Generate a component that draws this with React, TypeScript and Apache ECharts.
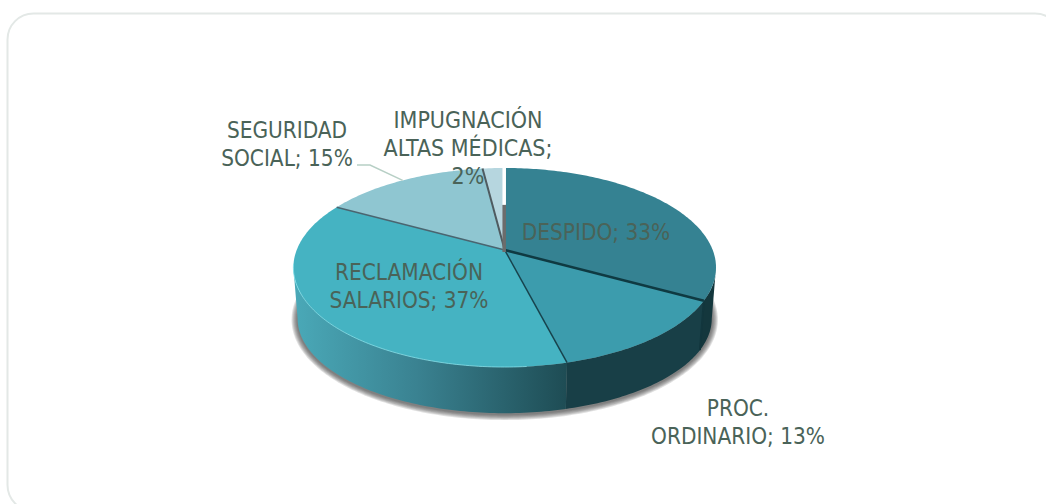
import React, { useEffect, useRef } from "react";
import * as echarts from "echarts";

const categories = ["DESPIDO", "PROC. ORDINARIO", "RECLAMACIÓN SALARIOS", "SEGURIDAD SOCIAL", "IMPUGNACIÓN ALTAS MÉDICAS"];
const shares = [33, 13, 37, 15, 2];
const labelTexts = ["DESPIDO; 33%", "PROC.\nORDINARIO; 13%", "RECLAMACIÓN\nSALARIOS; 37%", "SEGURIDAD\nSOCIAL; 15%", "IMPUGNACIÓN\nALTAS MÉDICAS;\n2%"];
const faceColors = ["#358292", "#3c9cad", "#45b3c2", "#8fc6d1", "#b6d6df"];
const labelCenters = [[596, 232], [738, 422], [409, 286], [287, 144], [468, 148]];
const labelSizes = [22.4, 22.4, 22.4, 22.4, 23];
const edgeStyles: [string, number][] = [["#0f3a42", 2.5], ["#17434d", 1.5], ["#4a6570", 1.5], ["#4f5b60", 2]];

const CX = 504.7, CY = 250, R = 208, S = 96.43, K = 0.176, DEPTH = 52;
const TEXT = "#4a6358";
const FONT = "'DejaVu Sans Condensed', 'DejaVu Sans', sans-serif";
const rad = (d: number) => (d * Math.PI) / 180;
const total = shares.reduce((a, b) => a + b, 0);
const startDeg = (i: number) => (shares.slice(0, i).reduce((a, b) => a + b, 0) / total) * 360;

function top(t: number): [number, number] {
  const u = Math.sin(rad(t)), v = Math.cos(rad(t)), d = 1 + K * v;
  return [CX + (R * u) / d, CY - (S * v) / d];
}
function bottom(t: number): [number, number] {
  const [x, y] = top(t);
  return [CX + (x - CX) * 0.98, CY + (y - CY) * 0.95 + DEPTH];
}
function arc(f: (t: number) => [number, number], a: number, b: number) {
  const n = Math.max(2, Math.ceil(Math.abs(b - a)));
  const pts: [number, number][] = [];
  for (let i = 0; i <= n; i++) pts.push(f(a + ((b - a) * i) / n));
  return pts;
}
const EXT_R = (Math.acos(-K) * 180) / Math.PI;
const EXT_L = 360 - EXT_R;
const wallFills: any[] = [
  "#14373d",
  "#183f47",
  { type: "linear", x: 0, y: 0, x2: 1, y2: 0, colorStops: [
    { offset: 0, color: "#4aa9b8" }, { offset: 0.45, color: "#3a8291" }, { offset: 1, color: "#1e4c54" } ] },
  "none", "none",
];
const SHADOW_LAYERS = [6, 5, 4, 3, 2, 1];

function App() {
  const ref = useRef<HTMLDivElement>(null);
  useEffect(() => {
    document.body.style.margin = "0";
    const chart = echarts.init(ref.current!, undefined, { renderer: "svg" });
    const data = shares.map((v, i) => ({ name: categories[i], value: v }));
    chart.setOption({
      animation: false,
      backgroundColor: "#ffffff",
      graphic: [{ type: "rect", z: 0, shape: { x: 7.5, y: 13.5, width: 1053.5, height: 497.5, r: 26 },
        style: { fill: "#ffffff", stroke: "#e3e8e6", lineWidth: 2 } }],
      series: [
        {
          type: "custom", coordinateSystem: "none", silent: true, z: 2, data,
          renderItem: (p: any) => {
            const i = p.dataIndex;
            const children: any[] = [];
            if (i === 0) {
              const my = CY + DEPTH + 16;
              SHADOW_LAYERS.forEach((e) => {
                const pts = arc(bottom, 0, 360).map(([x, y]) => [
                  CX + (x - CX) * (1 + e / 205), my + (y - my) * (1 + e / 96) + 1,
                ]);
                children.push({ type: "polygon", shape: { points: pts },
                  style: { fill: "rgba(60,60,60,0.16)" } });
              });
            }
            const a = Math.max(startDeg(i), EXT_R), b = Math.min(startDeg(i + 1), EXT_L);
            if (a < b) {
              children.push({ type: "polygon",
                shape: { points: [...arc(top, a, b), ...arc(bottom, b, a)] },
                style: { fill: wallFills[i] } });
            }
            if (i === 1) {
              children.push({ type: "line", shape: { x1: top(a)[0], y1: top(a)[1], x2: bottom(a)[0], y2: bottom(a)[1] },
                style: { stroke: "#12363d", lineWidth: 2 } });
            }
            return { type: "group", children };
          },
        },
        {
          type: "custom", coordinateSystem: "none", silent: true, z: 3, data,
          renderItem: (p: any) => {
            const i = p.dataIndex;
            const a = startDeg(i) + (i === 0 ? 0.3 : 0);
            const b = startDeg(i + 1) - (i === shares.length - 1 ? 0.3 : 0);
            const children: any[] = [{ type: "polygon",
              shape: { points: [[CX, CY], ...arc(top, a, b)] }, style: { fill: faceColors[i] } }];
            if (i === 2) {
              children.push({ type: "polyline", shape: { points: arc(top, 175, EXT_L + 2) },
                style: { fill: "none", stroke: "#82e0ea", lineWidth: 1, opacity: 0.8 } });
            }
            return { type: "group", children };
          },
        },
        {
          type: "custom", coordinateSystem: "none", silent: true, z: 4, data,
          renderItem: (p: any) => {
            const i = p.dataIndex;
            const children: any[] = [];
            if (i < edgeStyles.length) {
              const e = top(startDeg(i + 1));
              children.push({ type: "line", shape: { x1: CX, y1: CY, x2: e[0], y2: e[1] },
                style: { stroke: edgeStyles[i][0], lineWidth: edgeStyles[i][1] } });
            }
            if (i === shares.length - 1) {
              const e = top(0);
              const mid = CY + (e[1] - CY) * 0.55;
              children.push({ type: "line", shape: { x1: CX - 0.5, y1: e[1] - 1, x2: CX - 0.5, y2: mid },
                style: { stroke: "#ffffff", lineWidth: 3.5 } });
              children.push({ type: "line", shape: { x1: CX - 0.5, y1: mid, x2: CX - 0.5, y2: CY + 2 },
                style: { stroke: "#6c6c6c", lineWidth: 3.5 } });
            }
            if (i === 3) {
              const e = top((startDeg(i) + startDeg(i + 1)) / 2);
              children.push({ type: "polyline",
                shape: { points: [[357, 165], [370, 165], e] },
                style: { fill: "none", stroke: "#b7cfc5", lineWidth: 1.5 } });
            }
            return { type: "group", children };
          },
        },
        {
          type: "custom", coordinateSystem: "none", silent: true, z: 5, data,
          renderItem: (p: any) => {
            const i = p.dataIndex;
            return { type: "text", x: labelCenters[i][0], y: labelCenters[i][1],
              style: { text: labelTexts[i], fill: TEXT, fontFamily: FONT, fontSize: labelSizes[i],
                lineHeight: 28, align: "center", verticalAlign: "middle" } };
          },
        },
      ],
    });
    return () => chart.dispose();
  }, []);
  return <div ref={ref} style={{ width: 1046, height: 504 }} />;
}

export default App;
